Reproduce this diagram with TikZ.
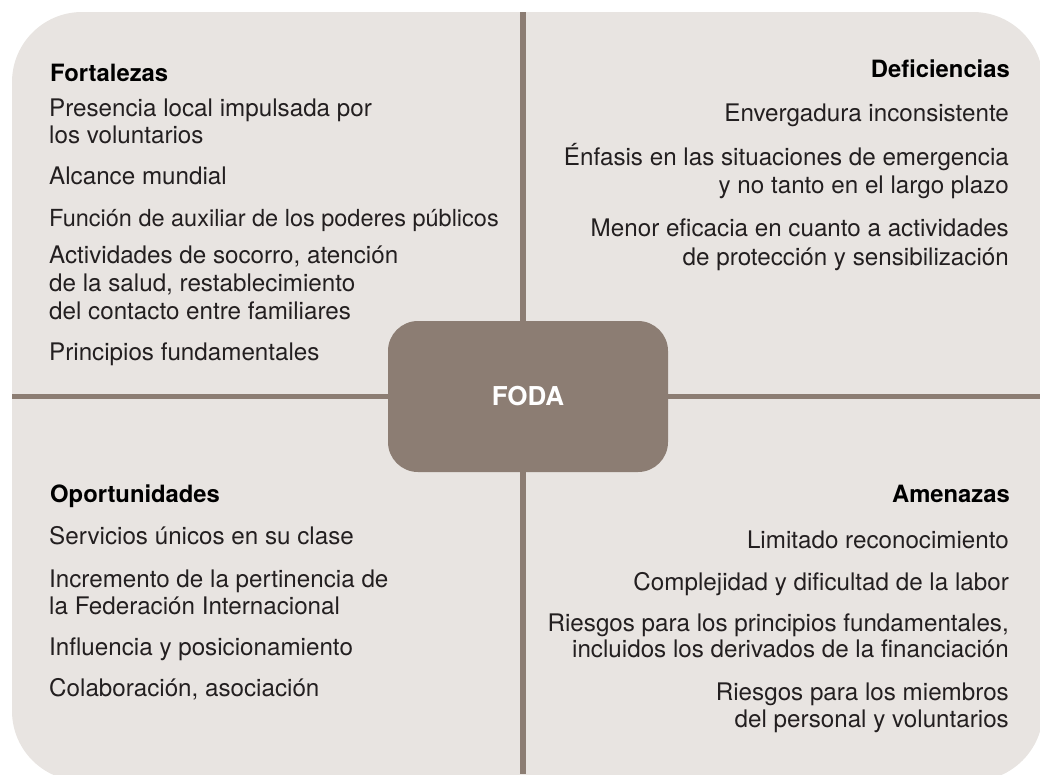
\documentclass[tikz,border=0pt]{standalone}
\usepackage{fontspec}
\setmainfont{TeX Gyre Heros}
\definecolor{bgc}{RGB}{232,228,225}
\definecolor{linec}{RGB}{140,125,115}
\definecolor{txtc}{RGB}{35,31,32}
\newcommand\bodyfnt{\fontsize{24.2}{28}\selectfont}
\newcommand\narrowfnt{\fontsize{23.5}{28}\selectfont}
\newcommand\headfnt{\fontsize{23.8}{28}\selectfont\bfseries}
\tikzset{
  bodyL/.style={anchor=base west, inner sep=0pt, font=\bodyfnt, text=txtc},
  bodyR/.style={anchor=base east, inner sep=0pt, font=\bodyfnt, text=txtc},
  headL/.style={anchor=base west, inner sep=0pt, font=\headfnt, text=black},
  headR/.style={anchor=base east, inner sep=0pt, font=\headfnt, text=black},
  divider/.style={draw=linec, line width=5.5pt},
  centerbox/.style={fill=linec, rounded corners=30pt, minimum width=280pt, minimum height=151pt, inner sep=0pt, text=white, font=\fontsize{26}{30}\selectfont\bfseries}
}
\begin{document}
\begin{tikzpicture}[x=1pt, y=-1pt]
\useasboundingbox (0,0) rectangle (1040,774);
\begin{scope}
\clip (0,0) rectangle (1040,774);
\fill[bgc, rounded corners=70pt] (12,12) rectangle (1043,781);
\coordinate (vt) at (523,12);
\coordinate (vb) at (523,774);
\coordinate (hl) at (12,396.5);
\coordinate (hr) at (1040,396.5);
\draw[divider] (vt) -- (vb);
\draw[divider] (hl) -- (hr);
\end{scope}
\node[centerbox] (foda) at (528,396.5) {FODA};

% Fortalezas
\node[headL] (f0) at (50,81.5) {Fortalezas};
\node[bodyL] (f1a) at (49,116.5) {Presencia local impulsada por};
\node[bodyL] (f1b) at (49,143.5) {los voluntarios};
\node[bodyL] (f2) at (49,184.5) {Alcance mundial};
\node[bodyL, font=\narrowfnt] (f3) at (49,226) {Función de auxiliar de los poderes públicos};
\node[bodyL] (f4a) at (49,263) {Actividades de socorro, atención};
\node[bodyL] (f4b) at (49,291) {de la salud, restablecimiento};
\node[bodyL] (f4c) at (49,319) {del contacto entre familiares};
\node[bodyL] (f5) at (49,360) {Principios fundamentales};

% Deficiencias
\node[headR] (d0) at (1010,77.5) {Deficiencias};
\node[bodyR] (d1) at (1009,121.5) {Envergadura inconsistente};
\node[bodyR] (d2a) at (1009,165) {Énfasis en las situaciones de emergencia};
\node[bodyR] (d2b) at (1009,193) {y no tanto en el largo plazo};
\node[bodyR] (d3a) at (1009,236.5) {Menor eficacia en cuanto a actividades};
\node[bodyR] (d3b) at (1009,265) {de protección y sensibilización};

% Oportunidades
\node[headL] (o0) at (50,502.5) {Oportunidades};
\node[bodyL] (o1) at (49,544) {Servicios únicos en su clase};
\node[bodyL] (o2a) at (49,587) {Incremento de la pertinencia de};
\node[bodyL] (o2b) at (49,614.5) {la Federación Internacional};
\node[bodyL] (o3) at (49,655) {Influencia y posicionamiento};
\node[bodyL] (o4) at (49,696.5) {Colaboración, asociación};

% Amenazas
\node[headR] (a0) at (1010,502.5) {Amenazas};
\node[bodyR] (a1) at (1009,548) {Limitado reconocimiento};
\node[bodyR] (a2) at (1009,590) {Complejidad y dificultad de la labor};
\node[bodyR] (a3a) at (1009,631.5) {Riesgos para los principios fundamentales,};
\node[bodyR] (a3b) at (1009,657.5) {incluidos los derivados de la financiación};
\node[bodyR] (a4a) at (1009,700) {Riesgos para los miembros};
\node[bodyR] (a4b) at (1009,727) {del personal y voluntarios};
\end{tikzpicture}
\end{document}
